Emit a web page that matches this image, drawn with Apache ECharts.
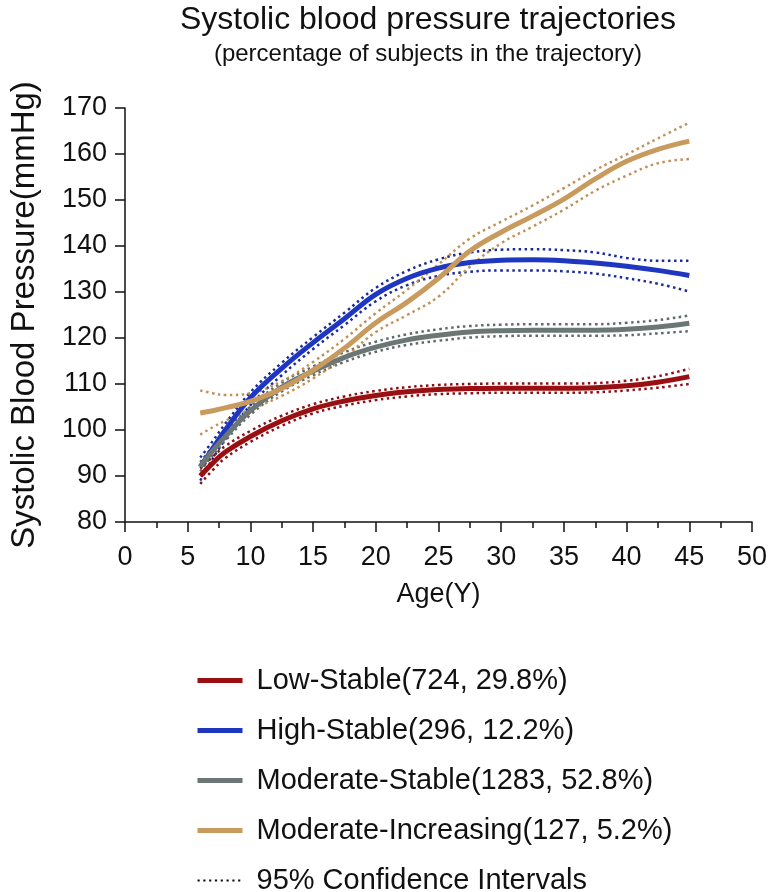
<!DOCTYPE html>
<html>
<head>
<meta charset="utf-8">
<script src="https://cdn.jsdelivr.net/npm/echarts@6/dist/echarts.min.js"></script>
<style>html,body{margin:0;padding:0;background:#fff}#c{width:776px;height:892px}</style>
</head>
<body>
<div id="c"></div>
<script>
var ages = [6, 7, 8, 10, 12.5, 15, 17.5, 20, 22.5, 25, 27.5, 30, 32.5, 35, 37.5, 40, 42.5, 45];

var lowMean  = [90.0, 92.8, 95.2, 98.6, 102.0, 104.6, 106.3, 107.5, 108.3, 108.8, 109.0, 109.1, 109.1, 109.1, 109.2, 109.6, 110.4, 111.6];
var lowUpper = [91.6, 94.2, 96.5, 99.8, 103.1, 105.6, 107.3, 108.5, 109.3, 109.8, 110.0, 110.1, 110.1, 110.1, 110.2, 110.7, 111.7, 113.3];
var lowLower = [88.3, 91.3, 93.9, 97.4, 100.9, 103.6, 105.3, 106.5, 107.3, 107.8, 108.0, 108.1, 108.1, 108.1, 108.2, 108.6, 109.2, 110.0];

var highMean  = [92.0, 96.0, 100.0, 107.0, 113.4, 119.0, 124.2, 129.5, 133.0, 135.2, 136.4, 136.9, 137.0, 136.8, 136.3, 135.6, 134.7, 133.6];
var highUpper = [94.0, 97.6, 101.4, 108.2, 114.6, 120.2, 125.5, 130.9, 134.6, 137.1, 138.6, 139.2, 139.3, 139.1, 138.6, 137.4, 136.8, 136.8];
var highLower = [89.0, 93.8, 98.0, 105.4, 111.9, 117.6, 122.8, 128.0, 131.5, 133.5, 134.4, 134.7, 134.7, 134.5, 134.0, 133.0, 131.8, 130.1];

var modMean  = [92.0, 95.5, 98.6, 104.2, 109.3, 112.8, 115.8, 118.0, 119.6, 120.6, 121.3, 121.6, 121.7, 121.7, 121.7, 121.9, 122.4, 123.2];
var modUpper = [93.0, 96.4, 99.5, 105.1, 110.3, 113.8, 116.9, 119.2, 120.8, 121.9, 122.6, 122.9, 123.0, 123.0, 123.0, 123.3, 123.9, 124.9];
var modLower = [91.0, 94.6, 97.7, 103.3, 108.4, 111.9, 114.8, 117.0, 118.5, 119.4, 120.1, 120.4, 120.5, 120.5, 120.5, 120.6, 121.0, 121.5];

var incMean  = [103.7, 104.2, 104.8, 106.2, 109.0, 113.0, 117.8, 123.3, 127.8, 133.0, 138.9, 143.0, 146.5, 150.2, 154.6, 158.4, 161.0, 162.8];
var incUpper = [108.6, 108.0, 107.6, 108.0, 110.6, 114.8, 119.8, 125.4, 130.5, 136.0, 141.6, 145.3, 148.8, 152.6, 156.5, 159.9, 163.4, 166.8];
var incLower = [99.0, 100.6, 102.0, 104.4, 107.4, 111.2, 115.8, 121.3, 125.0, 129.0, 135.5, 140.6, 144.2, 147.9, 152.0, 155.3, 158.0, 158.9];

var seriesNames = ['Low-Stable(724, 29.8%)', 'High-Stable(296, 12.2%)', 'Moderate-Stable(1283, 52.8%)', 'Moderate-Increasing(127, 5.2%)', '95% Confidence Intervals'];
var xTicks = [0, 5, 10, 15, 20, 25, 30, 35, 40, 45, 50];
var yTicks = [80, 90, 100, 110, 120, 130, 140, 150, 160, 170];

var colors = { low: '#9a0f12', high: '#1f36c0', mod: '#6c7775', inc: '#c99a5e' };
var ciColors = { low: '#8a1016', high: '#1a2a9a', mod: '#5f6a68', inc: '#c0925a' };

function pairs(v) { return ages.map(function (a, i) { return [a, v[i]]; }); }
function meanSeries(name, vals, col) {
  return { name: name, type: 'line', data: pairs(vals), smooth: 0.4, showSymbol: false, symbol: 'none',
    lineStyle: { color: col, width: 5 }, itemStyle: { color: col }, z: 3 };
}
function ciSeries(vals, col) {
  return { type: 'line', data: pairs(vals), smooth: 0.4, showSymbol: false, symbol: 'none', silent: true,
    lineStyle: { color: col, width: 2.5, type: [2.5, 3.5] }, z: 2 };
}

var FONT = 'Liberation Sans';
var legendColors = [colors.low, colors.high, colors.mod, colors.inc];
var legendData = seriesNames.map(function (n, i) {
  if (i < 4) return { name: n, lineStyle: { color: legendColors[i], width: 5, type: 'solid' } };
  return { name: n, lineStyle: { color: '#111', width: 2.2, type: [2.2, 3.6] } };
});

var chart = echarts.init(document.getElementById('c'), null, { renderer: 'canvas' });
chart.setOption({
  backgroundColor: '#fff',
  animation: false,
  title: {
    text: 'Systolic blood pressure trajectories',
    subtext: '(percentage of subjects in the trajectory)',
    left: 428, top: 4, textAlign: 'center', itemGap: 6, padding: 0,
    textStyle: { fontFamily: FONT, fontSize: 32, fontWeight: 'normal', color: '#111' },
    subtextStyle: { fontFamily: FONT, fontSize: 24, color: '#111' }
  },
  legend: {
    orient: 'vertical', left: 195, top: 666, height: 260, padding: 0, itemWidth: 45, itemHeight: 6, itemGap: 21,
    data: legendData,
    itemStyle: { opacity: 0 },
    textStyle: { fontFamily: FONT, fontSize: 29, color: '#111', padding: [0, 0, 0, 9] }
  },
  grid: { left: 122, right: 24, top: 108, bottom: 370 },
  xAxis: {
    type: 'value', min: 0, max: 50, interval: 5,
    name: 'Age(Y)', nameLocation: 'middle', nameGap: 59,
    nameTextStyle: { fontFamily: FONT, fontSize: 27, color: '#111' },
    axisLine: { lineStyle: { color: '#111', width: 1.5 } },
    axisTick: { show: true, length: 10, lineStyle: { color: '#111', width: 1.5 } },
    minorTick: { show: true, splitNumber: 2, length: 6, lineStyle: { color: '#111', width: 1.5 } },
    axisLabel: { fontFamily: FONT, fontSize: 27, color: '#111', margin: 22,
      formatter: function (v) { return xTicks.indexOf(v) >= 0 ? String(v) : ''; } },
    splitLine: { show: false }
  },
  yAxis: {
    type: 'value', min: 80, max: 170, interval: 10,
    name: 'Systolic Blood Pressure(mmHg)', nameLocation: 'middle', nameGap: 84, nameRotate: 90,
    nameTextStyle: { fontFamily: FONT, fontSize: 33, color: '#111' },
    axisLine: { show: true, lineStyle: { color: '#111', width: 1.5 } },
    axisTick: { show: true, length: 10, lineStyle: { color: '#111', width: 1.5 } },
    axisLabel: { fontFamily: FONT, fontSize: 27, color: '#111', margin: 18,
      formatter: function (v) { return yTicks.indexOf(v) >= 0 ? String(v) : ''; } },
    splitLine: { show: false }
  },
  series: [
    ciSeries(highUpper, ciColors.high), ciSeries(highLower, ciColors.high),
    ciSeries(modUpper, ciColors.mod), ciSeries(modLower, ciColors.mod),
    ciSeries(incUpper, ciColors.inc), ciSeries(incLower, ciColors.inc),
    ciSeries(lowUpper, ciColors.low), ciSeries(lowLower, ciColors.low),
    meanSeries(seriesNames[1], highMean, colors.high),
    meanSeries(seriesNames[2], modMean, colors.mod),
    meanSeries(seriesNames[3], incMean, colors.inc),
    meanSeries(seriesNames[0], lowMean, colors.low),
    { name: seriesNames[4], type: 'line', data: [], symbol: 'none',
      lineStyle: { color: '#111', width: 2.2, type: [2.2, 3.6] }, itemStyle: { color: '#111' } }
  ]
});
</script>
</body>
</html>
